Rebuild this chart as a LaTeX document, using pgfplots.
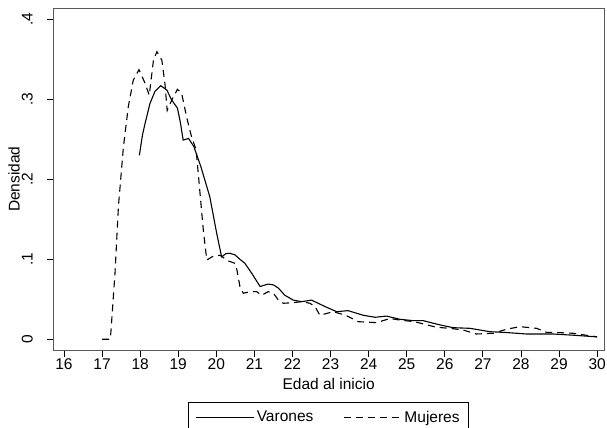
\documentclass[border=0pt]{standalone}
\usepackage{pgfplots}
\pgfplotsset{compat=1.18}
\usepackage{fontspec}
\setmainfont{Liberation Sans}
\definecolor{frame}{gray}{0.35}
\begin{document}
\fontsize{15.5bp}{18bp}\selectfont
\begin{tikzpicture}
\begin{axis}[
  scale only axis,
  width=550.7bp, height=341.5bp,
  xmin=15.72, xmax=30.18,
  ymin=-0.0134, ymax=0.4135,
  axis line style={frame, line width=0.8bp},
  tick style={black, line width=0.8bp},
  tick align=outside,
  major tick length=6.7bp,
  xtick pos=bottom, ytick pos=left,
  xtick={16,17,...,30},
  xticklabels={16,17,18,19,20,21,22,23,24,25,26,27,28,29,30},
  ytick={0,0.1,0.2,0.3,0.4},
  yticklabels={0,.1,.2,.3,.4},
  xticklabel style={anchor=base, inner sep=0pt, yshift=-12.5bp},
  yticklabel style={rotate=90, anchor=base, inner sep=0pt},
  yticklabel shift=13.9bp,
  xlabel={Edad al inicio},
  ylabel={Densidad},
  xlabel style={at={(axis description cs:0.5,0)}, anchor=base, yshift=-39.4bp, inner sep=0pt},
  ylabel style={at={(axis description cs:-0.061,0.5)}, anchor=base, inner sep=0pt},
  legend columns=2,
  legend style={at={(0.5,-0.1514)}, anchor=north, draw=black, line width=0.6bp,
    inner xsep=7bp, inner ysep=7bp, /tikz/every even column/.append style={column sep=28bp}},
  legend cell align=left,
  legend image code/.code={\draw[#1] (0bp,0bp) -- (58bp,0bp);},
]
\addplot[black, line width=1.1bp] coordinates {
(17.98,0.230) (18.06,0.255) (18.13,0.270) (18.26,0.295) (18.39,0.310) (18.54,0.317)
(18.70,0.3116) (18.83,0.299) (18.98,0.289) (19.06,0.270) (19.13,0.249) (19.27,0.251)
(19.41,0.241) (19.60,0.215) (19.83,0.178) (20.01,0.1325) (20.14,0.103) (20.25,0.107)
(20.36,0.1075) (20.49,0.1055) (20.62,0.100) (20.75,0.095) (20.93,0.0825) (21.15,0.066)
(21.36,0.069) (21.50,0.068) (21.63,0.064) (21.80,0.055) (22.02,0.049) (22.24,0.047)
(22.50,0.049) (22.85,0.041) (23.16,0.0345) (23.46,0.0358) (23.86,0.030) (24.17,0.0275)
(24.47,0.029) (24.82,0.025) (25.17,0.0233) (25.43,0.0233) (25.87,0.018) (26.22,0.0145)
(26.66,0.0137) (27.18,0.0095) (27.60,0.0085) (28.15,0.0066) (28.85,0.0066) (29.40,0.005)
(30.00,0.003)
};
\addlegendentry{Varones}
\addplot[black, line width=1.1bp, dash pattern=on 7bp off 5bp] coordinates {
(17.00,0.000) (17.21,0.000) (17.23,0.0075) (17.34,0.0825) (17.43,0.166) (17.56,0.240)
(17.69,0.291) (17.82,0.324) (17.97,0.337) (18.13,0.320) (18.24,0.305) (18.35,0.349)
(18.44,0.3595) (18.57,0.349) (18.65,0.320) (18.71,0.286) (18.83,0.299) (18.98,0.3125)
(19.09,0.3075) (19.22,0.278) (19.35,0.253) (19.47,0.237) (19.66,0.136) (19.75,0.099)
(19.92,0.104) (20.10,0.105) (20.31,0.098) (20.49,0.095) (20.54,0.087) (20.62,0.066)
(20.71,0.0575) (20.88,0.0595) (21.06,0.0595) (21.19,0.055) (21.36,0.0595) (21.50,0.0575)
(21.63,0.049) (21.76,0.045) (22.02,0.0458) (22.24,0.047) (22.46,0.045) (22.59,0.041)
(22.72,0.030) (23.07,0.0345) (23.40,0.030) (23.73,0.022) (24.21,0.0208) (24.56,0.026)
(24.82,0.024) (25.20,0.022) (25.78,0.015) (26.13,0.0137) (26.48,0.0116) (26.83,0.0066)
(27.27,0.0075) (27.62,0.0125) (27.97,0.0158) (28.41,0.0137) (28.67,0.0087) (29.02,0.0083)
(29.37,0.0075) (30.00,0.003)
};
\addlegendentry{Mujeres}
\end{axis}
\pgfresetboundingbox
\useasboundingbox (-53.3bp,-78bp) rectangle (553.7bp,350bp);
\end{tikzpicture}
\end{document}
